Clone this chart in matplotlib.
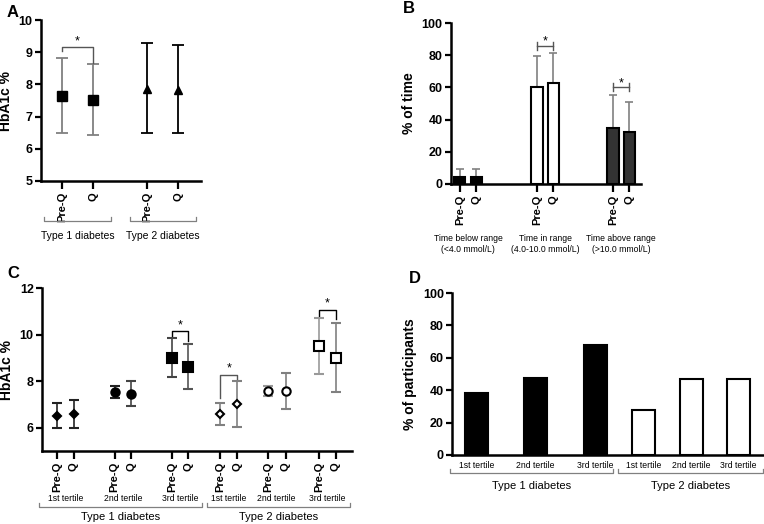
import numpy as np
import matplotlib.pyplot as plt

plt.rcParams['font.family'] = ['Liberation Sans', 'DejaVu Sans']

# Panel A: HbA1c by diabetes type
a_ticks = ["Pre-Q", "Q", "Pre-Q", "Q"]
a_mean = [7.65, 7.52, 7.85, 7.83]
a_low = [6.48, 6.42, 6.48, 6.48]
a_high = [8.82, 8.63, 9.28, 9.22]
groups = ["Type 1 diabetes", "Type 2 diabetes"]

# Panel B: time in range
b_ticks = ["Pre-Q", "Q", "Pre-Q", "Q", "Pre-Q", "Q"]
b_mean = [4, 4, 60, 63, 35, 32]
b_top = [9.5, 9, 79.5, 81.5, 55, 51]
b_cats = ["Time below range\n(<4.0 mmol/L)",
          "Time in range\n(4.0-10.0 mmol/L)",
          "Time above range\n(>10.0 mmol/L)"]

# Panel C: HbA1c by tertile
c_mean = [6.52, 6.58, 7.55, 7.47, 9.02, 8.63, 6.58, 7.03, 7.57, 7.57, 9.5, 9.0]
c_low = [6.0, 5.98, 7.3, 6.93, 8.2, 7.65, 6.12, 6.05, 7.35, 6.8, 8.32, 7.53]
c_high = [7.05, 7.2, 7.8, 8.0, 9.87, 9.62, 7.05, 8.0, 7.8, 8.35, 10.7, 10.5]
tertiles = ["1st tertile", "2nd tertile", "3rd tertile"]

# Panel D: % of participants
d_vals = [38.5, 47.5, 68, 28, 47, 47]

fig = plt.figure(figsize=(7.64, 5.24), dpi=100)


def style(ax):
    for s in ["top", "right"]:
        ax.spines[s].set_visible(False)
    for s in ["left", "bottom"]:
        ax.spines[s].set_linewidth(1.8)
    ax.tick_params(axis="y", width=1.6, length=4, labelsize=9, pad=2)
    ax.tick_params(axis="x", width=1.6, length=6, labelsize=8, pad=2)
    for lbl in ax.get_yticklabels():
        lbl.set_fontweight("bold")


def sig(ax, x1, x2, y, l1, l2, col="black"):
    ax.plot([x1, x1, x2, x2], [y - l1, y, y, y - l2], color=col, lw=1)
    ax.text((x1 + x2) / 2, y, "*", ha="center", va="bottom", fontsize=9)


def group_bracket(ax, x1, x2, y, text, ty, fs=7.5):
    tr = ax.get_xaxis_transform()
    ax.plot([x1, x1, x2, x2], [y + 0.025, y, y, y + 0.025], color="gray",
            lw=0.9, transform=tr, clip_on=False)
    ax.text((x1 + x2) / 2, ty, text, ha="center", va="center", fontsize=fs,
            transform=tr)


# ---- A ----
ax = fig.add_axes([0.0537, 0.6546, 0.2094, 0.3072])
xa = np.array([0, 1, 2.75, 3.75])
for i in range(4):
    col = "#808080" if i < 2 else "black"
    mk = "s" if i < 2 else "^"
    ax.errorbar(xa[i], a_mean[i],
                yerr=[[a_mean[i] - a_low[i]], [a_high[i] - a_mean[i]]],
                fmt=mk, color="black", ecolor=col, elinewidth=1.3,
                capsize=4, capthick=1.3, ms=6.5 if i < 2 else 6)
sig(ax, 0, 1, 9.15, 0.1, 0.5, col="#555555")
ax.set_xlim(-0.68, 4.48)
ax.set_ylim(5, 10)
ax.set_xticks(xa)
ax.set_xticklabels(a_ticks, rotation=90, fontweight="bold")
ax.set_ylabel("HbA1c %", fontsize=10, fontweight="bold", labelpad=4)
style(ax)
group_bracket(ax, -0.58, 1.58, -0.248, groups[0], -0.34)
group_bracket(ax, 2.19, 4.32, -0.248, groups[1], -0.34)

# ---- B ----
ax = fig.add_axes([0.590, 0.649, 0.249, 0.307])
xb = np.array([0, 1, 4.67, 5.67, 9.27, 10.27])
colors = ["black", "black", "white", "white", "#333333", "#333333"]
ax.bar(xb, b_mean, width=0.68, color=colors, edgecolor="black", lw=1.5, zorder=3)
ax.errorbar(xb, b_mean, yerr=[np.zeros(6), np.array(b_top) - np.array(b_mean)],
            fmt="none", ecolor="#808080", elinewidth=1.2, capsize=3,
            capthick=1.2, zorder=2)
for x1, x2, y in [(4.67, 5.67, 86), (9.27, 10.27, 60)]:
    ax.plot([x1, x2], [y, y], color="#555555", lw=1)
    ax.plot([x1, x1], [y - 2.5, y + 2.5], color="#555555", lw=1)
    ax.plot([x2, x2], [y - 2.5, y + 2.5], color="#555555", lw=1)
    ax.text((x1 + x2) / 2, y - 1, "*", ha="center", va="bottom", fontsize=9)
ax.set_xlim(-0.55, 10.97)
ax.set_ylim(0, 100)
ax.set_yticks([0, 20, 40, 60, 80, 100])
ax.set_xticks(xb)
ax.set_xticklabels(b_ticks, rotation=90, fontweight="bold")
ax.set_ylabel("% of time", fontsize=10, fontweight="bold", labelpad=4)
style(ax)
tr = ax.get_xaxis_transform()
for k, c in enumerate(b_cats):
    ax.text((xb[2 * k] + xb[2 * k + 1]) / 2, -0.373, c, ha="center",
            va="center", fontsize=6.2, transform=tr, linespacing=1.3)

# ---- C ----
ax = fig.add_axes([0.055, 0.1393, 0.406, 0.3107])
xc = np.array([0, 1, 3.46, 4.46, 6.9, 7.9, 9.8, 10.84, 12.7, 13.74, 15.74, 16.74])
markers = ["D", "D", "o", "o", "s", "s"] * 2
sizes = [4.2, 4.2, 6, 6, 6.5, 6.5] * 2
ecols = ["#222222", "#222222", "#222222", "#444444", "#444444", "#555555",
         "#808080", "#808080", "#999999", "#808080", "#999999", "#808080"]
for i in range(12):
    face = "black" if i < 6 else "white"
    ax.errorbar(xc[i], c_mean[i],
                yerr=[[c_mean[i] - c_low[i]], [c_high[i] - c_mean[i]]],
                fmt=markers[i], mfc=face, mec="black", mew=1.5, ms=sizes[i],
                ecolor=ecols[i], elinewidth=1.2, capsize=3.5, capthick=1.2,
                zorder=3)
sig(ax, 6.9, 7.9, 10.14, 0.2, 0.4)
sig(ax, 9.8, 10.84, 8.28, 1.0, 0.2, col="#555555")
sig(ax, 15.74, 16.74, 11.08, 0.3, 0.4)
ax.set_xlim(-0.9, 17.74)
ax.set_ylim(5, 12)
ax.set_yticks([6, 8, 10, 12])
ax.set_xticks(xc)
ax.set_xticklabels(["Pre-Q", "Q"] * 6, rotation=90, fontweight="bold")
ax.set_ylabel("HbA1c %", fontsize=10, fontweight="bold", labelpad=4)
style(ax)
tr = ax.get_xaxis_transform()
for k in range(6):
    ax.text(xc[2 * k] + 0.5, -0.29, tertiles[k % 3], ha="center",
            va="center", fontsize=6.2, transform=tr)
group_bracket(ax, -1.08, 8.7, -0.345, groups[0], -0.405, fs=8)
group_bracket(ax, 9.0, 17.58, -0.345, groups[1], -0.405, fs=8)

# ---- D ----
ax = fig.add_axes([0.592, 0.1317, 0.407, 0.3091])
xd = np.array([0, 1.23, 2.48, 3.48, 4.48, 5.46])
dcol = ["black"] * 3 + ["white"] * 3
ax.bar(xd, d_vals, width=0.48, color=dcol, edgecolor="black", lw=1.5)
ax.set_xlim(-0.5, 5.98)
ax.set_ylim(0, 100)
ax.set_yticks([0, 20, 40, 60, 80, 100])
ax.set_xticks(xd)
ax.set_xticklabels(tertiles * 2, fontsize=6.2)
ax.set_ylabel("% of participants", fontsize=10, fontweight="bold", labelpad=4)
style(ax)
ax.tick_params(axis="x", length=0, pad=4, labelsize=6.2)
group_bracket(ax, -0.54, 2.85, -0.111, groups[0], -0.19, fs=8)
group_bracket(ax, 2.96, 5.98, -0.111, groups[1], -0.19, fs=8)

# panel letters
fig.text(0.009, 0.976, "A", fontsize=12, fontweight="bold", va="center")
fig.text(0.527, 0.984, "B", fontsize=12, fontweight="bold", va="center")
fig.text(0.009, 0.478, "C", fontsize=12, fontweight="bold", va="center")
fig.text(0.535, 0.469, "D", fontsize=12, fontweight="bold", va="center")

fig.savefig("out.png", dpi=100)
